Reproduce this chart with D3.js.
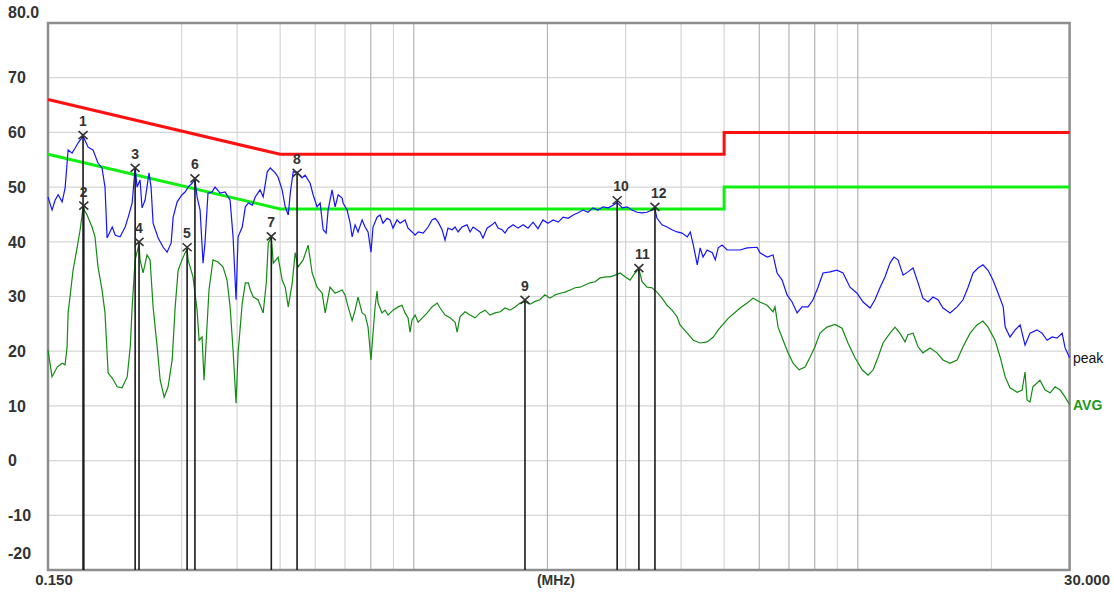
<!DOCTYPE html>
<html>
<head>
<meta charset="utf-8">
<script src="https://cdn.jsdelivr.net/npm/d3@7"></script>
<style>
  body { margin: 0; background: #fff; }
  svg text { font-family: "Liberation Sans", Arial, sans-serif; }
</style>
</head>
<body>
<div id="chart"></div>
<script>
// frequencies in MHz, levels in dBuV
const peakFreq = [0.150,0.1532,0.1556,0.1581,0.1614,0.1639,0.1665,0.1699,0.1726,0.1754,0.1799,0.1847,0.1894,0.1944,0.1985,0.2016,0.2038,0.2093,0.2126,0.2180,0.2238,0.2274,0.2321,0.2357,0.2381,0.2418,0.2443,0.2481,0.2533,0.2560,0.2587,0.2656,0.2726,0.2782,0.2841,0.2871,0.2931,0.3006,0.3054,0.3102,0.3166,0.3214,0.3250,0.3301,0.3352,0.3386,0.3439,0.3511,0.3567,0.3662,0.3758,0.3857,0.3917,0.3978,0.4020,0.4108,0.4174,0.4240,0.4328,0.4394,0.4505,0.4579,0.4677,0.4751,0.4874,0.4948,0.5052,0.5133,0.5215,0.5269,0.5351,0.5459,0.5604,0.5693,0.5842,0.5932,0.6055,0.6153,0.6250,0.6347,0.6412,0.6545,0.6650,0.6755,0.6895,
  0.6930,0.7075,0.7188,0.7263,0.7376,0.7489,0.7648,0.7768,0.7888,0.8009,0.8094,0.8265,0.8393,0.8523,0.8705,0.8841,0.8977,0.9168,0.9313,0.9556,0.9707,0.9909,1.007,1.023,1.050,1.077,1.099,1.117,1.135,1.158,1.176,1.194,1.220,1.239,1.258,1.284,1.318,1.339,1.360,1.388,1.410,1.432,1.462,1.500,1.524,1.548,1.581,1.605,1.631,1.674,1.717,1.763,1.808,1.856,1.904,1.954,2.005,2.060,2.115,2.169,2.226,2.286,2.345,2.405,2.468,2.533,2.600,2.669,2.740,2.810,2.871,2.946,3.022,3.102,3.182,3.267,3.352,3.439,3.493,3.530,3.623,3.719,3.816,3.917,4.020,4.130,4.196,4.262,4.350,4.416,4.482,4.579,4.702,4.776,4.850,4.948,5.079,
  5.432,5.634,5.932,6.023,6.250,6.445,6.580,6.755,6.930,7.113,7.301,7.489,7.728,7.928,8.137,8.350,8.659,8.977,9.264,9.606,9.96,10.28,10.66,10.93,11.23,11.52,11.82,12.06,12.32,12.65,12.97,13.32,13.67,14.02,14.40,14.77,15.16,15.56,16.14,16.74,17.26,17.72,18.18,18.66,19.14,19.65,20.16,20.71,21.26,21.48,22.02,22.62,23.21,23.81,24.43,25.33,26.00,26.70,27.40,28.10,28.86,29.31,30.00];
const peakLevel = [48.2,45.8,47.6,48.6,47.3,49.8,56.8,56.2,57.1,58.1,59.3,57.3,56.8,54.4,53.5,50.0,40.7,42.7,41.2,40.9,42.7,44.5,47.1,53.6,50.0,51.3,46.2,47.6,52.6,50.0,43.4,40.7,39.0,38.1,39.8,44.5,47.3,48.6,49.1,50.0,50.7,51.4,48.2,45.8,36.1,39.8,48.9,49.1,50.0,48.9,49.1,47.6,40.9,29.4,40.9,42.7,46.4,47.1,46.7,48.2,49.5,48.2,52.8,53.5,52.6,51.8,49.5,46.4,44.9,48.9,52.8,52.7,51.7,52.2,50.7,48.6,46.4,47.1,42.2,41.6,45.8,49.5,46.4,48.6,48.0,
  47.1,45.8,43.4,40.9,43.1,41.8,44.0,42.7,41.8,38.1,42.7,44.5,44.9,43.4,44.3,44.0,42.5,44.0,43.4,44.0,42.5,41.8,41.2,41.8,41.6,42.7,44.0,44.3,43.6,42.2,40.3,42.5,42.2,42.7,41.8,42.7,43.1,41.8,42.7,42.2,41.8,40.7,42.5,43.1,43.6,42.5,42.2,41.6,42.5,43.1,42.5,43.1,42.5,43.6,42.4,44.0,43.4,44.0,43.6,44.5,44.3,44.9,45.3,45.8,45.4,46.2,45.8,46.4,46.2,46.7,47.2,46.2,46.4,45.8,45.4,45.3,45.4,45.8,46.0,44.3,43.1,42.7,42.2,41.8,41.6,40.9,41.8,39.4,35.8,38.9,37.2,38.5,38.0,36.7,38.9,39.4,38.5,
  38.5,38.9,39.0,38.0,37.2,37.6,34.3,33.0,30.3,29.0,27.0,28.1,28.1,29.4,31.7,34.3,34.5,34.8,34.3,31.7,30.6,29.0,27.9,29.4,31.7,33.6,36.1,37.2,36.7,33.9,34.5,35.2,32.5,29.7,29.0,29.9,29.4,27.9,27.0,28.1,29.4,31.7,34.3,35.2,35.8,34.8,33.0,30.6,28.1,24.4,22.6,23.9,24.8,21.1,23.3,23.9,23.3,22.0,22.6,22.4,23.3,20.6,18.8];

const avgFreq = [0.150,0.1532,0.1573,0.1614,0.1639,0.1656,0.1665,0.1691,0.1708,0.1745,0.1772,0.1799,0.1837,0.1885,0.1914,0.1944,0.1985,0.2016,0.2049,0.2093,0.2148,0.2202,0.2262,0.2298,0.2321,0.2357,0.2405,0.2418,0.2456,0.2507,0.2547,0.2587,0.2642,0.2684,0.2740,0.2796,0.2856,0.2901,0.2946,0.3006,0.3054,0.3086,0.3102,0.3182,0.3250,0.3284,0.3335,0.3369,0.3421,0.3457,0.3530,0.3623,0.3719,0.3796,0.3857,0.3917,0.3978,0.4020,0.4108,0.4174,0.4240,0.4284,0.4350,0.4460,0.4579,0.4653,0.4702,0.4776,0.4825,0.4948,0.5052,0.5133,0.5215,0.5324,0.5405,0.5486,0.5634,0.5782,0.5902,0.6055,0.6218,0.6315,0.6476,0.6650,
  0.6895,0.7000,0.7113,0.7263,0.7376,0.7489,0.7648,0.7768,0.7888,0.8009,0.8179,0.8265,0.8308,0.8479,0.8614,0.8750,0.8977,0.9216,0.9409,0.9556,0.9707,0.9808,0.9909,1.007,1.023,1.045,1.072,1.099,1.129,1.146,1.176,1.207,1.239,1.252,1.271,1.304,1.339,1.374,1.410,1.447,1.485,1.524,1.565,1.605,1.647,1.691,1.735,1.780,1.828,1.875,1.924,1.974,2.027,2.082,2.137,2.191,2.250,2.309,2.369,2.430,2.494,2.560,2.628,2.712,2.768,2.841,2.916,2.991,3.070,3.150,3.214,3.267,3.352,3.439,3.530,3.623,3.719,3.816,3.917,
  3.978,4.130,4.262,4.416,4.579,4.727,4.850,5.106,5.432,5.634,5.812,6.023,6.250,6.445,6.510,6.615,6.790,6.965,7.150,7.376,7.608,7.808,8.009,8.222,8.523,8.886,9.216,9.505,9.858,10.23,10.55,10.83,11.11,11.40,11.82,12.13,12.44,12.78,12.97,13.32,13.67,14.02,14.55,15.08,15.56,16.14,16.74,17.26,17.91,18.55,19.14,19.65,20.38,20.93,21.48,22.02,22.86,23.45,23.81,24.06,24.43,24.80,25.72,26.42,27.12,27.83,28.57,29.31,30.00];
const avgLevel = [20.2,15.3,17.1,17.8,17.5,20.8,27.0,31.7,34.8,39.0,42.2,46.2,44.9,42.7,40.9,35.4,31.2,27.0,16.0,15.1,13.5,13.3,15.3,20.8,28.1,36.7,39.6,36.7,34.3,37.6,36.7,28.1,20.8,14.7,11.6,13.5,18.4,28.1,34.8,36.7,38.0,38.6,36.7,33.6,27.5,22.0,22.6,14.7,24.4,31.2,36.7,36.3,35.4,33.0,28.1,20.2,10.5,19.7,28.8,32.5,32.5,31.2,29.9,29.4,27.0,32.5,39.8,40.8,36.1,37.2,33.0,31.7,28.1,32.5,38.0,35.4,36.7,39.4,34.3,31.7,30.6,27.0,31.7,30.6,
  31.2,30.3,28.1,25.6,27.5,29.9,27.0,26.6,24.4,18.4,28.0,31.0,28.8,27.0,27.5,26.6,27.5,28.1,28.4,27.0,26.1,23.5,25.7,26.6,25.3,26.1,27.0,28.1,28.8,27.9,26.6,26.1,25.3,23.5,26.3,27.2,26.6,26.1,27.0,27.5,26.6,27.0,27.2,27.9,27.5,28.1,28.8,29.0,28.6,29.1,29.4,30.3,29.7,30.3,30.6,30.8,31.2,31.6,31.7,32.1,32.5,32.7,33.4,33.6,33.6,33.9,34.3,33.6,33.0,34.3,35.0,32.7,31.7,31.6,30.8,29.7,28.4,27.5,26.3,
  24.8,23.3,22.0,21.5,21.7,22.6,23.9,26.0,27.9,28.8,29.7,29.0,28.4,27.2,28.1,24.4,22.0,19.7,17.8,16.6,17.1,18.9,20.8,23.3,24.4,24.9,24.2,21.5,18.8,16.6,15.6,16.6,18.9,21.5,23.3,24.4,23.3,21.7,23.0,23.3,20.8,19.7,20.6,19.7,18.4,17.8,18.4,20.8,23.3,24.8,25.5,24.4,22.0,18.9,15.3,13.3,12.5,12.9,16.2,11.1,10.7,13.5,14.7,12.9,12.4,13.5,12.9,11.6,10.2];

// limit lines (QP red, AV green)
const limitFreq = [0.15, 0.5, 5, 5, 30];
const qpLimit = [66, 56, 56, 60, 60];
const avLimit = [56, 46, 46, 50, 50];

// markers
const markerNo = [1,2,3,4,5,6,7,8,9,10,11,12];
const markerFreq = [0.1799,0.1806,0.2357,0.2405,0.3086,0.3214,0.4776,0.5459,1.780,2.871,3.214,3.493];
const markerLevel = [59.5,46.6,53.5,40.0,39.0,51.6,41.0,52.6,29.4,47.6,35.2,46.4];

// ticks
const yTicks = [80,70,60,50,40,30,20,10,0,-10,-20];
const yTickLabels = ["80.0","70","60","50","40","30","20","10","0","-10","-20"];
const gridFreq = [0.3,0.4,0.5,0.6,0.7,0.8,0.9,1,2,3,4,5,6,7,8,9,10,20];
const darkGridFreq = [0.8,1,2,6,7,8,10];

const W = 1114, H = 592;
const pLeft = 48, pRight = 1069.6, pTop = 23, pBottom = 570;

const svg = d3.select('#chart').append('svg').attr('width', W).attr('height', H);
svg.append('rect').attr('width', W).attr('height', H).attr('fill', '#fff');

const x = d3.scaleLog().domain([0.15, 30]).range([pLeft, pRight]);
const y = d3.scaleLinear().domain([-20, 80]).range([pBottom, pTop]);

// grid
svg.append('g').selectAll('line').data(yTicks.slice(1, -1)).enter().append('line')
  .attr('x1', pLeft).attr('x2', pRight)
  .attr('y1', d => y(d)).attr('y2', d => y(d))
  .attr('stroke', '#d6d6d6').attr('stroke-width', 1.2);

svg.append('g').selectAll('line').data(gridFreq).enter().append('line')
  .attr('x1', d => x(d)).attr('x2', d => x(d))
  .attr('y1', pTop).attr('y2', pBottom)
  .attr('stroke', d => darkGridFreq.includes(d) ? '#b4b4b4' : '#d6d6d6')
  .attr('stroke-width', 1.2);

// frame
svg.append('rect').attr('x', pLeft).attr('y', pTop)
  .attr('width', pRight - pLeft).attr('height', pBottom - pTop)
  .attr('fill', 'none').attr('stroke', '#8e8e8e').attr('stroke-width', 2.5);

// y labels
svg.append('g').selectAll('text').data(yTicks).enter().append('text')
  .attr('x', 8)
  .attr('y', (d, i) => i === 0 ? y(d) - 11 : (i === yTicks.length - 1 ? y(d) - 17 : y(d)))
  .attr('dy', '0.36em')
  .attr('font-size', 16).attr('font-weight', 'bold').attr('fill', '#333')
  .text((d, i) => yTickLabels[i]);

// x labels
svg.append('text').attr('x', x(0.15) + 6).attr('y', 585).attr('text-anchor', 'middle')
  .attr('font-size', 15).attr('font-weight', 'bold').attr('fill', '#333').text('0.150');
svg.append('text').attr('x', 556).attr('y', 585).attr('text-anchor', 'middle')
  .attr('font-size', 14).attr('font-weight', 'bold').attr('fill', '#333').text('(MHz)');
svg.append('text').attr('x', 1110).attr('y', 585).attr('text-anchor', 'end')
  .attr('font-size', 15).attr('font-weight', 'bold').attr('fill', '#333').text('30.000');

// limits
const limLine = vals => d3.line().x((d, i) => x(limitFreq[i])).y(d => y(d))(vals);
svg.append('path').attr('d', limLine(qpLimit)).attr('fill', 'none')
  .attr('stroke', '#ff1010').attr('stroke-width', 3);
svg.append('path').attr('d', limLine(avLimit)).attr('fill', 'none')
  .attr('stroke', '#10f010').attr('stroke-width', 3);

// traces
const trace = (f, v) => d3.line().x((d, i) => x(f[i])).y(d => y(d))(v);
svg.append('path').attr('d', trace(avgFreq, avgLevel)).attr('fill', 'none')
  .attr('stroke', '#138a13').attr('stroke-width', 1.2);
svg.append('path').attr('d', trace(peakFreq, peakLevel)).attr('fill', 'none')
  .attr('stroke', '#1414ff').attr('stroke-width', 1.2);

// markers
const mk = svg.append('g');
markerNo.forEach((n, i) => {
  const mx = x(markerFreq[i]), my = y(markerLevel[i]);
  mk.append('line').attr('x1', mx).attr('x2', mx).attr('y1', my).attr('y2', pBottom)
    .attr('stroke', '#1a1a1a').attr('stroke-width', 1.6);
  mk.append('path')
    .attr('d', `M${mx - 4.5},${my - 4}L${mx + 4.5},${my + 4}M${mx + 4.5},${my - 4}L${mx - 4.5},${my + 4}`)
    .attr('stroke', '#333').attr('stroke-width', 1.6).attr('fill', 'none');
  mk.append('text').attr('x', mx - 4).attr('y', my - 9)
    .attr('font-size', 14).attr('font-weight', 'bold').attr('fill', '#333').text(n);
});

// trace names
svg.append('text').attr('x', 1073).attr('y', y(peakLevel[peakLevel.length - 1]) + 5)
  .attr('font-size', 14).attr('fill', '#111').text('peak');
svg.append('text').attr('x', 1073).attr('y', y(avgLevel[avgLevel.length - 1]) + 5)
  .attr('font-size', 14).attr('font-weight', 'bold').attr('fill', '#1a9a1a').text('AVG');
</script>
</body>
</html>
